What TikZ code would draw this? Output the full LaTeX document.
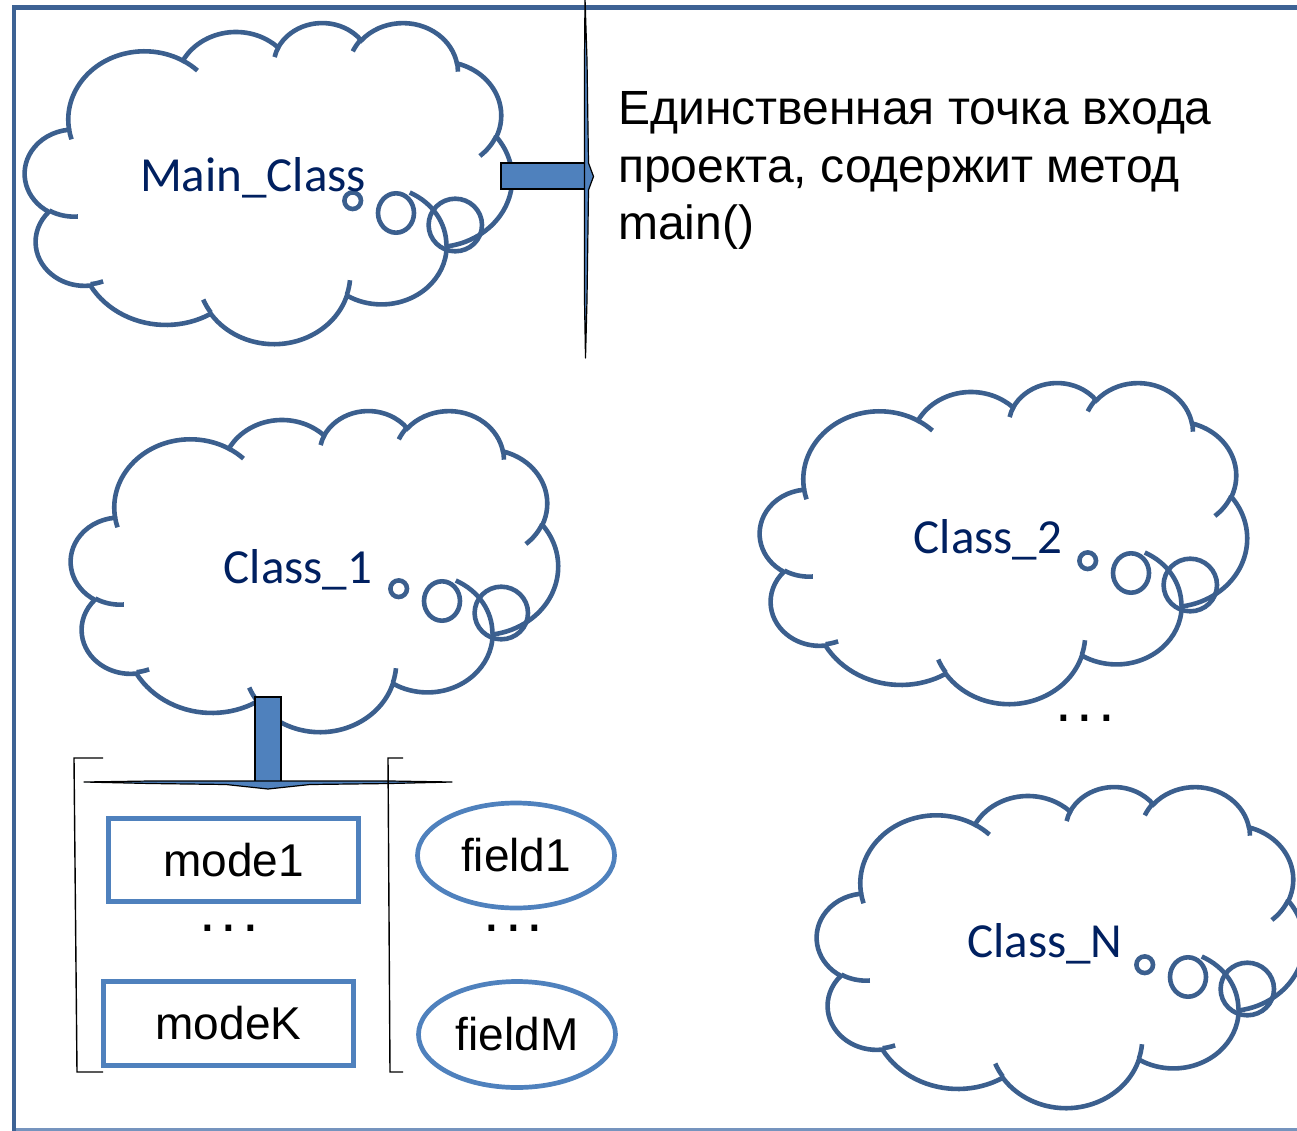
\documentclass[tikz,border=0pt]{standalone}
\usepackage{fontspec}
\setmainfont{Liberation Sans}
\newfontfamily\classfont{Carlito}
\usetikzlibrary{shapes.geometric}

\definecolor{cloudblue}{HTML}{3B5F8E}
\definecolor{accent}{HTML}{4F81BD}
\definecolor{navy}{HTML}{002060}
\definecolor{framecol}{HTML}{3D6294}
\definecolor{framelight}{HTML}{7594BE}

% elliptic arc given by radii, visual start angle and visual sweep (degrees)
\newcommand\ca[4]{arc[start angle={atan2((#1)*sin(#3),(#2)*cos(#3))},
  delta angle={mod(atan2((#1)*sin((#3)+(#4)),(#2)*cos((#3)+(#4)))-atan2((#1)*sin(#3),(#2)*cos(#3))+720,360)},
  x radius=#1, y radius=#2]}

% thought cloud with its three bubbles; #1,#2 = top left corner
\newcommand\thoughtcloud[2]{%
  \begin{scope}[shift={(#1,#2)}, x=11.273pt, y=-7.431pt]
    \path[cloudline, fill=white] (3.900,14.370)
      \ca{6.753}{9.190}{-190.4875}{123.7805}
      \ca{5.333}{7.267}{-144.1024}{89.9452}
      \ca{4.365}{5.945}{-145.8079}{99.7230}
      \ca{4.857}{6.595}{-130.9861}{117.2417}
      \ca{5.333}{7.273}{-78.7089}{109.0269}
      \ca{6.775}{9.220}{-46.2673}{130.2690}
      \ca{5.785}{7.867}{0.6250}{114.0333}
      \ca{6.752}{9.215}{22.4516}{115.1726}
      \ca{7.720}{10.543}{66.2426}{75.7110}
      \ca{4.360}{5.918}{-274.9421}{146.7356}
      \ca{4.345}{5.945}{-246.8285}{152.5189} -- cycle;
    \draw[cloudline]
      (4.693,26.177) \ca{4.345}{5.945}{86.7420}{26.4295}
      (6.928,34.899) \ca{4.360}{5.918}{73.6105}{11.4475}
      (16.478,39.090) \ca{6.752}{9.215}{137.6242}{14.0811}
      (28.827,34.751) \ca{6.752}{9.215}{6.4533}{15.9984}
      (34.129,22.954) \ca{5.785}{7.867}{-70.2924}{70.9174}
      (41.798,15.354) \ca{5.333}{7.273}{30.3180}{27.7515}
      (38.324,5.426) \ca{4.857}{6.595}{-13.7443}{14.8589}
      (29.078,3.952) \ca{4.857}{6.595}{-149.1815}{18.1954}
      (22.141,4.720) \ca{4.365}{5.945}{-163.4943}{17.6864}
      (14.000,5.192) \ca{6.753}{9.190}{-66.7070}{12.3194}
      (4.127,15.789) \ca{6.753}{9.190}{157.6544}{11.8582};
  \end{scope}
  \begin{scope}[shift={(#1,#2)}]
    \draw[cloudline] (327.7,178.7) ellipse[x radius=8.3, y radius=8.3];
    \draw[cloudline] (371,191) ellipse[x radius=18, y radius=19.7];
    \draw[cloudline] (430.3,203) ellipse[x radius=26.7, y radius=26.3];
  \end{scope}}

\tikzset{
  cloudline/.style={draw=cloudblue, line width=4.6pt},
  classname/.style={font=\classfont\fontsize{49}{59}\selectfont, text=navy, inner sep=0pt},
  desc/.style={font=\fontsize{48}{57.5}\selectfont, text=black, inner sep=0pt},
  itemtext/.style={font=\fontsize{46}{55}\selectfont, text=black},
  modebox/.style={rectangle, draw=accent, line width=5pt, inner sep=0pt, itemtext},
  fieldoval/.style={ellipse, draw=accent, line width=4.7pt, inner sep=0pt, itemtext},
  bar/.style={rectangle, fill=accent, draw=black, line width=1.6pt, inner sep=0pt},
  pointer/.style={fill=accent, draw=black, line width=1.2pt, line join=round},
  bracketline/.style={draw=black, line width=1.4pt},
  dots/.style={font=\fontsize{60}{60}\selectfont, inner sep=0pt, anchor=base}
}

\begin{document}
\begin{tikzpicture}[x=1pt, y=-1pt]
  \useasboundingbox (0,0) rectangle (1297,1131);

  % page frame
  \draw[framelight, line width=2.5pt] (14,1129.5) -- (1300,1129.5);
  \draw[framecol, line width=4.5pt] (14,1132) -- (14,7.5) -- (1300,7.5);

  % classes
  \thoughtcloud{25}{22}
  \thoughtcloud{71}{410}
  \thoughtcloud{760}{382}
  \thoughtcloud{817}{786}

  \node[classname, anchor=base] (mainclass) at (253,192) {Main\_Class};
  \node[classname, anchor=base] (class1) at (298,583) {Class\_1};
  \node[classname, anchor=base] (class2) at (988,553) {Class\_2};
  \node[classname, anchor=base] (classN) at (1045,957) {Class\_N};

  % Main_Class pointer to its description
  \node[bar, minimum width=87pt, minimum height=26pt] (mainbar) at (544.5,176) {};
  \path[pointer] (585,-2) -- (587,60) -- (588.5,163) -- (593.5,176.5)
    -- (588.5,190) -- (587,300) -- (585.5,358) -- (584.5,300)
    -- (584.5,60) -- cycle;
  \node[desc, anchor=base west] (line1) at (618,125) {Единственная точка входа};
  \node[desc, anchor=base west] (line2) at (618,182.5) {проекта, содержит метод};
  \node[desc, anchor=base west] (line3) at (618,240) {main()};

  % Class_1 pointer to its members
  \node[bar, minimum width=26pt, minimum height=85pt] (memberbar) at (268,739.5) {};
  \path[pointer] (84,782) -- (150,781) -- (390,781) -- (452,782)
    -- (390,783.5) -- (310,784.5) -- (268,789) -- (226,784.5)
    -- (150,783.5) -- cycle;

  % brackets around the members
  \coordinate (lbtop) at (74,758);
  \coordinate (lbbot) at (77,1072);
  \coordinate (rbtop) at (388,758);
  \coordinate (rbbot) at (390,1072);
  \draw[bracketline] (lbtop -| 103,0) -- (lbtop) -- (lbbot) -- (lbbot -| 103,0);
  \draw[bracketline] (rbtop -| 403,0) -- (rbtop) -- (rbbot) -- (rbbot -| 403,0);

  % methods
  \node[modebox, minimum width=250pt, minimum height=83pt] (mode1) at (233.5,860) {mode1};
  \node[modebox, minimum width=250pt, minimum height=84pt] (modeK) at (228.5,1023.5) {modeK};
  \node[dots] (mdots) at (229,931) {.\kern4.8pt.\kern4.8pt.};

  % fields
  \node[fieldoval, minimum width=197pt, minimum height=105pt] (field1) at (516,855.5) {field1};
  \node[fieldoval, minimum width=197pt, minimum height=106pt] (fieldM) at (517,1034.5) {fieldM};
  \node[dots] (fdots) at (513.5,931) {.\kern4.8pt.\kern4.8pt.};

  % more classes
  \node[dots] (cdots) at (1085,721) {.\kern4.8pt.\kern4.8pt.};
\end{tikzpicture}
\end{document}
